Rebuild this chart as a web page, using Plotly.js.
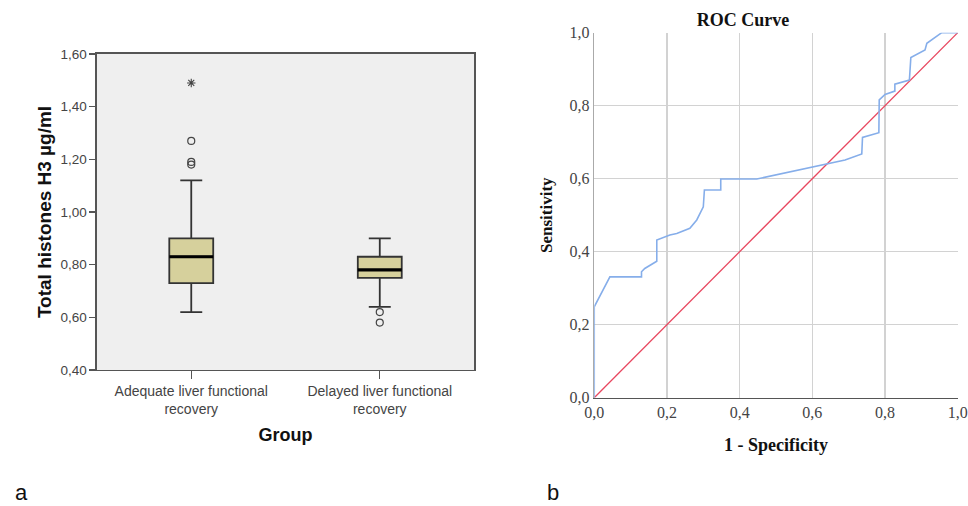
<!DOCTYPE html>
<html>
<head>
<meta charset="utf-8">
<script src="https://cdn.plot.ly/plotly-3.0.1.min.js"></script>
<style>html,body{margin:0;padding:0;background:#fff;}#chart{width:968px;height:506px;}</style>
</head>
<body>
<div id="chart"></div>
<script>
// ---- Panel a: box plot summary statistics ----
var categories = ['Adequate liver functional recovery', 'Delayed liver functional recovery'];
var tickLabels = ['Adequate liver functional<br>recovery', 'Delayed liver functional<br>recovery'];
var q1 = [0.73, 0.75];
var medians = [0.83, 0.78];
var q3 = [0.90, 0.83];
var lowerFence = [0.62, 0.64];
var upperFence = [1.12, 0.90];
// outliers (circles)
var outlierGroup = ['Adequate liver functional recovery', 'Adequate liver functional recovery', 'Adequate liver functional recovery', 'Delayed liver functional recovery', 'Delayed liver functional recovery'];
var outlierValues = [1.27, 1.19, 1.18, 0.62, 0.58];
// extreme values (stars)
var extremeGroup = ['Adequate liver functional recovery'];
var extremeValues = [1.49];
var yTicks = [0.40, 0.60, 0.80, 1.00, 1.20, 1.40, 1.60];

// ---- Panel b: ROC curve ----
var rocFPR = [0, 0, 0.043, 0.130, 0.130, 0.139, 0.172, 0.172, 0.208, 0.227, 0.263, 0.282, 0.300, 0.303, 0.348, 0.348, 0.447, 0.511, 0.598, 0.644, 0.690, 0.736, 0.738, 0.783, 0.784, 0.800, 0.827, 0.827, 0.867, 0.871, 0.910, 0.915, 0.956, 1.0];
var rocTPR = [0, 0.249, 0.331, 0.331, 0.345, 0.354, 0.374, 0.432, 0.446, 0.450, 0.464, 0.487, 0.523, 0.569, 0.569, 0.599, 0.599, 0.613, 0.633, 0.642, 0.651, 0.668, 0.713, 0.726, 0.816, 0.831, 0.840, 0.859, 0.870, 0.932, 0.953, 0.971, 1.0, 1.0];
var refX = [0, 1];
var refY = [0, 1];
var rocTicks = [0, 0.2, 0.4, 0.6, 0.8, 1.0];

var sans = 'Liberation Sans, Arial, sans-serif';
var serif = 'Liberation Serif, Times New Roman, serif';

var traces = [
  {
    type: 'box', x: categories, q1: q1, median: medians, q3: q3,
    lowerfence: lowerFence, upperfence: upperFence,
    xaxis: 'x', yaxis: 'y', width: 0.233, whiskerwidth: 0.5,
    fillcolor: '#d6d09c', line: {color: '#333', width: 1.8},
    boxpoints: false, hoverinfo: 'skip', showlegend: false, offsetgroup: 'g'
  },
  {
    // median line drawn thicker
    type: 'box', x: categories, q1: medians, median: medians, q3: medians,
    lowerfence: medians, upperfence: medians,
    xaxis: 'x', yaxis: 'y', width: 0.233, whiskerwidth: 0,
    fillcolor: 'rgba(0,0,0,0)', line: {color: '#000', width: 3.2},
    boxpoints: false, hoverinfo: 'skip', showlegend: false, offsetgroup: 'g'
  },
  {
    type: 'scatter', mode: 'markers', x: outlierGroup, y: outlierValues,
    xaxis: 'x', yaxis: 'y',
    marker: {symbol: 'circle-open', size: 7, color: '#444', line: {width: 1.2}},
    hoverinfo: 'skip', showlegend: false
  },
  {
    type: 'scatter', mode: 'markers', x: extremeGroup, y: extremeValues,
    xaxis: 'x', yaxis: 'y',
    marker: {symbol: 'asterisk-open', size: 7, color: '#444', line: {width: 1.1}},
    hoverinfo: 'skip', showlegend: false
  },
  {
    type: 'scatter', mode: 'lines', x: refX, y: refY, xaxis: 'x2', yaxis: 'y2',
    line: {color: '#e8475f', width: 1.3}, hoverinfo: 'skip', showlegend: false
  },
  {
    type: 'scatter', mode: 'lines', x: rocFPR, y: rocTPR, xaxis: 'x2', yaxis: 'y2',
    line: {color: '#86aeea', width: 1.6}, hoverinfo: 'skip', showlegend: false
  }
];

var layout = {
  width: 968, height: 506,
  margin: {l: 0, r: 0, t: 0, b: 0},
  paper_bgcolor: '#fff', plot_bgcolor: 'rgba(0,0,0,0)',
  separators: ',.',
  boxmode: 'overlay',
  showlegend: false,
  title: {
    text: 'ROC Curve', x: 0.7676, xanchor: 'center', xref: 'paper',
    y: 0.962, yanchor: 'middle', yref: 'paper',
    font: {family: serif, size: 18, color: '#111', weight: 'bold'}
  },
  xaxis: {
    domain: [0.1002, 0.4897], anchor: 'y', type: 'category',
    categoryarray: categories, categoryorder: 'array', range: [-0.5, 1.5],
    tickvals: categories, ticktext: tickLabels,
    showline: true, mirror: true, linecolor: '#555', linewidth: 1.5,
    ticks: 'outside', ticklen: 8, tickcolor: '#555', tickwidth: 1.2,
    showgrid: false, zeroline: false, fixedrange: true,
    tickfont: {family: sans, size: 14, color: '#444'},
    title: {text: 'Group', standoff: 12, font: {family: sans, size: 18, color: '#111', weight: 'bold'}}
  },
  yaxis: {
    domain: [0.2688, 0.8933], anchor: 'x',
    range: [0.4, 1.6], tickvals: yTicks, tickformat: '.2f',
    showline: true, mirror: true, linecolor: '#555', linewidth: 1.5,
    ticks: 'outside', ticklen: 6, tickcolor: '#555', tickwidth: 1.2,
    showgrid: false, zeroline: false, fixedrange: true,
    tickfont: {family: sans, size: 13.5, color: '#444'},
    title: {text: 'Total histones H3 µg/ml', standoff: 4, font: {family: sans, size: 19, color: '#111', weight: 'bold'}}
  },
  xaxis2: {
    domain: [0.6139, 0.9894], anchor: 'y2', range: [0, 1],
    tickvals: rocTicks, tickformat: '.1f',
    showline: true, linecolor: '#555', linewidth: 1.5,
    ticks: '', showgrid: true, gridcolor: '#d2d2d2', gridwidth: 1.5,
    zeroline: false, fixedrange: true,
    tickfont: {family: serif, size: 16, color: '#444'},
    title: {text: '1 - Specificity', standoff: 18, font: {family: serif, size: 18, color: '#111', weight: 'bold'}}
  },
  yaxis2: {
    domain: [0.214, 0.9354], anchor: 'x2', range: [0, 1],
    tickvals: rocTicks, tickformat: '.1f',
    showline: true, linecolor: '#aaa', linewidth: 1.5,
    ticks: '', showgrid: true, gridcolor: '#d2d2d2', gridwidth: 1.5,
    zeroline: false, fixedrange: true,
    tickfont: {family: serif, size: 16, color: '#444'},
    title: {text: 'Sensitivity', standoff: 12, font: {family: serif, size: 17, color: '#111', weight: 'bold'}}
  },
  shapes: [
    {type: 'rect', xref: 'x domain', yref: 'y domain', x0: 0, x1: 1, y0: 0, y1: 1,
     fillcolor: '#efefef', line: {width: 0}, layer: 'below'}
  ],
  annotations: [
    {text: 'a', xref: 'paper', yref: 'paper', x: 0.0227, y: 1 - 492 / 506, xanchor: 'center', yanchor: 'middle',
     showarrow: false, font: {family: sans, size: 22, color: '#111'}},
    {text: 'b', xref: 'paper', yref: 'paper', x: 0.5713, y: 1 - 492 / 506, xanchor: 'center', yanchor: 'middle',
     showarrow: false, font: {family: sans, size: 22, color: '#111'}}
  ]
};

Plotly.newPlot('chart', traces, layout, {staticPlot: true, displayModeBar: false});
</script>
</body>
</html>
